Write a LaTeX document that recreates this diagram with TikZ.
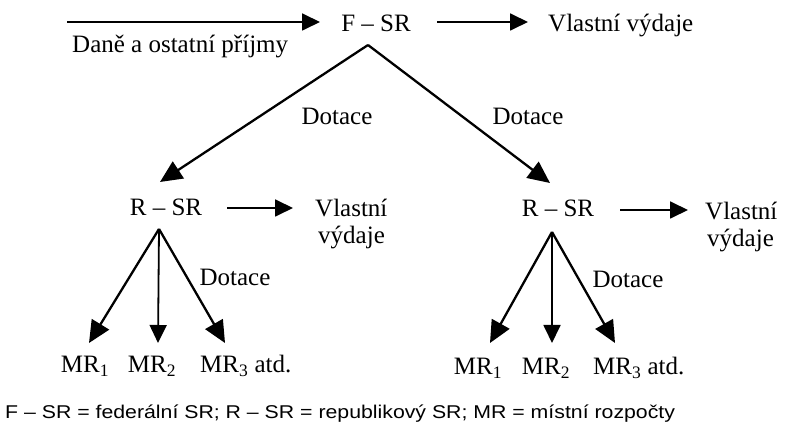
\documentclass[tikz,border=0pt]{standalone}
\usepackage{fontspec}
\setmainfont{Liberation Serif}
\newfontfamily\footfont{Liberation Sans}
\usetikzlibrary{arrows.meta}
\begin{document}
\begin{tikzpicture}[x=1pt,y=-1pt,
  lbl/.style={font=\fontsize{25}{27}\selectfont, inner sep=0pt, anchor=base},
  arr/.style={-{Triangle[length=18pt,width=17pt]}, line width=1.8pt},
  darr/.style={-{Triangle[length=22pt,width=20pt]}, line width=2.3pt}]
\useasboundingbox (0,0) rectangle (787,435);
% top level
\node[lbl] (fsr) at (376,32) {F – SR};
\coordinate (in) at (67,22);
\coordinate (tin) at (320,22);
\node[lbl, anchor=base west] (dane) at (72,53) {Daně a ostatní příjmy};
\node[lbl, anchor=base west] (vv0) at (548,32) {Vlastní výdaje};
\coordinate (s0) at (437,22);
\coordinate (t0) at (528,22);
\draw[arr] (in) -- (tin);
\draw[arr] (s0) -- (t0);
% apex
\coordinate (fa) at (368,45);
% left R-SR
\node[lbl] (rl) at (166,216) {R – SR};
\node[lbl, anchor=base west] (vvl1) at (315,217) {Vlastní};
\node[lbl, anchor=base west] (vvl2) at (318,244) {výdaje};
\coordinate (sl) at (227,208);
\coordinate (tl2) at (293,208);
\draw[arr] (sl) -- (tl2);
% right R-SR
\node[lbl] (rr) at (558,217) {R – SR};
\node[lbl, anchor=base west] (vvr1) at (705,220) {Vlastní};
\node[lbl, anchor=base west] (vvr2) at (707,247) {výdaje};
\coordinate (sr) at (620,210);
\coordinate (tr2) at (688,210);
\draw[arr] (sr) -- (tr2);
\coordinate (tl) at (160,182);
\coordinate (tr) at (550,183);
\draw[darr] (fa) -- (tl);
\draw[darr] (fa) -- (tr);
\node[lbl] (dl) at (337,125) {Dotace};
\node[lbl] (dr) at (528,125) {Dotace};
% left bottom
\coordinate (la) at (159,229);
\node[lbl] (l1) at (85,373) {MR\textsubscript{1}};
\node[lbl] (l2) at (152,373) {MR\textsubscript{2}};
\node[lbl, anchor=base west] (l3) at (200,373) {MR\textsubscript{3} atd.};
\coordinate (lt1) at (89,343);
\coordinate (lt2) at (158,343);
\coordinate (lt3) at (225,343);
\draw[darr] (la) -- (lt1);
\draw[arr] (la) -- (lt2);
\draw[darr] (la) -- (lt3);
\node[lbl] (dl2) at (235,286) {Dotace};
% right bottom
\coordinate (ra) at (552,232);
\node[lbl] (r1) at (478,375) {MR\textsubscript{1}};
\node[lbl] (r2) at (546,375) {MR\textsubscript{2}};
\node[lbl, anchor=base west] (r3) at (593,375) {MR\textsubscript{3} atd.};
\coordinate (rt1) at (490,343);
\coordinate (rt2) at (552,343);
\coordinate (rt3) at (615,343);
\draw[darr] (ra) -- (rt1);
\draw[arr] (ra) -- (rt2);
\draw[darr] (ra) -- (rt3);
\node[lbl] (dr2) at (628,288) {Dotace};
% footer
\node[anchor=base west, inner sep=0pt, font=\footfont\fontsize{18.5}{20}\selectfont, xscale=1.15] (foot) at (5,418) {F – SR = federální SR; R – SR = republikový SR; MR = místní rozpočty};
\end{tikzpicture}
\end{document}
